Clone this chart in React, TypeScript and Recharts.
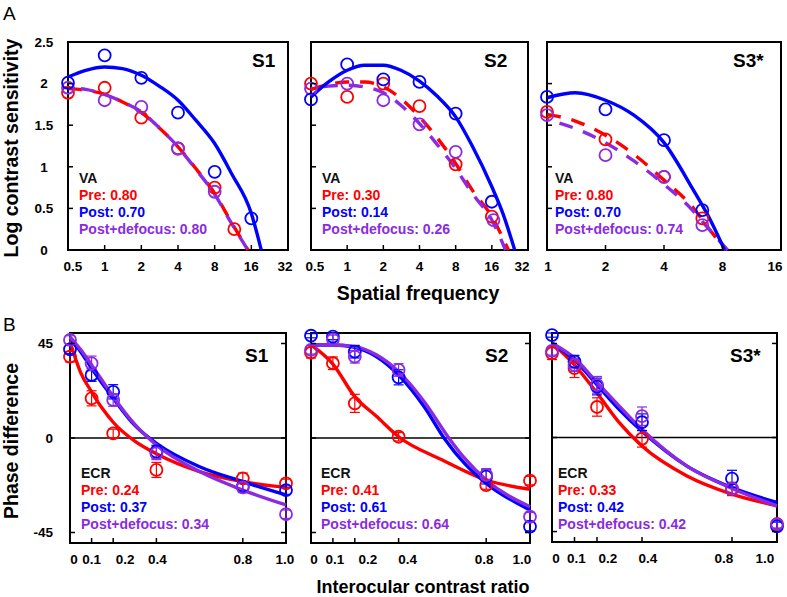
import React from "react";
import {
  ComposedChart,
  Line,
  Scatter,
  XAxis,
  YAxis,
  ReferenceArea,
  ReferenceLine,
  ErrorBar,
} from "recharts";

const RED = "#ff0000";
const BLUE = "#0000ff";
const PURPLE = "#8a2be2";
const FONT = "Arial, 'Liberation Sans', sans-serif";

type P = [number, number];
type E = [number, number, number];

// ---- A: contrast sensitivity vs spatial frequency ----
const sfTicks = [0.5, 1, 2, 4, 8, 16, 32];
const sfLabels = ["0.5", "1", "2", "4", "8", "16", "32"];
const sfTicksS3 = [1, 2, 4, 8, 16];
const sfLabelsS3 = ["1", "2", "4", "8", "16"];
const lcsTicks = [0, 0.5, 1, 1.5, 2, 2.5];
const lcsLabels = ["0", "0.5", "1", "1.5", "2", "2.5"];

const csfS1Pre: P[] = [[0.5, 1.89], [1, 1.95], [2, 1.59], [4, 1.22], [8, 0.75], [11.6, 0.25]];
const csfS1Post: P[] = [[0.5, 2.01], [1, 2.34], [2, 2.07], [4, 1.65], [8, 0.94], [16, 0.38]];
const csfS1Def: P[] = [[0.5, 1.95], [1, 1.8], [2, 1.72], [4, 1.22], [8, 0.7]];
const csfS1PreFit: P[] = [[0.5, 1.94], [0.7, 1.92], [1, 1.87], [1.4, 1.78], [2, 1.65], [2.8, 1.47], [4, 1.24], [5.6, 0.98], [8, 0.68], [11, 0.33], [15, 0]];
const csfS1PostFit: P[] = [[0.5, 2.08], [0.7, 2.16], [1, 2.2], [1.4, 2.18], [2, 2.1], [2.8, 1.97], [4, 1.8], [5.6, 1.56], [8, 1.28], [11, 0.92], [16, 0.44], [19.3, 0]];
const csfS1DefFit: P[] = [[0.5, 1.95], [0.7, 1.93], [1, 1.87], [1.4, 1.78], [2, 1.66], [2.8, 1.47], [4, 1.24], [5.6, 0.97], [8, 0.67], [11, 0.32], [15, 0]];

const csfS2Pre: P[] = [[0.5, 2.0], [1, 1.84], [2, 2.0], [4, 1.73], [8, 1.03], [16, 0.4]];
const csfS2Post: P[] = [[0.5, 1.81], [1, 2.23], [2, 2.05], [4, 2.02], [8, 1.64], [16, 0.58]];
const csfS2Def: P[] = [[0.5, 1.94], [1, 2.0], [2, 1.8], [4, 1.51], [8, 1.18], [16.5, 0.36]];
const csfS2PreFit: P[] = [[0.5, 1.93], [0.7, 1.99], [1, 2.02], [1.4, 2.02], [2, 1.96], [2.8, 1.82], [4, 1.6], [5.6, 1.35], [8, 1.04], [11, 0.72], [16, 0.4], [22, 0]];
const csfS2PostFit: P[] = [[0.5, 1.84], [0.7, 2.02], [1, 2.16], [1.4, 2.22], [2, 2.22], [2.8, 2.16], [4, 2.03], [5.6, 1.85], [8, 1.6], [11, 1.25], [16, 0.76], [20, 0.42], [24.8, 0]];
const csfS2DefFit: P[] = [[0.5, 1.94], [0.7, 1.97], [1, 1.98], [1.4, 1.96], [2, 1.89], [2.8, 1.74], [4, 1.52], [5.6, 1.27], [8, 0.98], [11, 0.68], [16, 0.36], [20.8, 0]];

const csfS3Pre: P[] = [[1, 1.66], [2, 1.33], [4, 0.88], [6.3, 0.38]];
const csfS3Post: P[] = [[1, 1.84], [2, 1.69], [4, 1.32], [6.3, 0.48]];
const csfS3Def: P[] = [[1, 1.62], [2, 1.14], [4, 0.88], [6.3, 0.3]];
const csfS3PreFit: P[] = [[1, 1.63], [1.4, 1.55], [2, 1.38], [2.8, 1.15], [4, 0.84], [5.6, 0.52], [7, 0.22], [8.3, 0]];
const csfS3PostFit: P[] = [[1, 1.83], [1.4, 1.89], [2, 1.8], [2.8, 1.62], [4, 1.29], [5.6, 0.74], [7, 0.34], [8.2, 0]];
const csfS3DefFit: P[] = [[1, 1.57], [1.4, 1.46], [2, 1.29], [2.8, 1.07], [4, 0.79], [5.6, 0.48], [7, 0.22], [8.5, 0]];

const vaS1 = ["0.80", "0.70", "0.80"];
const vaS2 = ["0.30", "0.14", "0.26"];
const vaS3 = ["0.80", "0.70", "0.74"];

// ---- B: phase difference vs interocular contrast ratio ----
const icrTicks = [0, 0.1, 0.2, 0.4, 0.8, 1.0];
const icrLabels = ["0", "0.1", "0.2", "0.4", "0.8", "1.0"];
const phaseTicks = [-45, 0, 45];
const phaseLabels = ["-45", "0", "45"];

const ecrS1Pre: E[] = [[0, 38.7, 2.5], [0.1, 18.9, 3.6], [0.2, 2.2, 2], [0.4, -15.2, 3.6], [0.8, -19.2, 2.5], [1, -21.6, 2]];
const ecrS1Post: E[] = [[0, 42.2, 2], [0.1, 30, 3], [0.2, 22, 3.4], [0.4, -6.5, 3], [0.8, -23.2, 2], [1, -24.8, 2]];
const ecrS1Def: E[] = [[0, 46.7, 2], [0.1, 35.5, 3.5], [0.2, 18.1, 3], [0.4, -7.3, 3], [0.8, -23.5, 2.5], [1, -36.3, 2]];
const ecrS1PreFit: P[] = [[0, 46], [0.025, 38], [0.05, 31], [0.1, 22], [0.15, 14], [0.2, 7.5], [0.3, -1.5], [0.4, -7.5], [0.6, -16], [0.8, -20.8], [1, -23.5]];
const ecrS1PostFit: P[] = [[0, 47.5], [0.05, 41], [0.1, 33.2], [0.2, 18.9], [0.3, 6], [0.4, -2.5], [0.6, -13.7], [0.8, -20.8], [1, -27.1]];
const ecrS1DefFit: P[] = [[0, 48.2], [0.05, 42], [0.1, 34.8], [0.2, 19.7], [0.3, 6.5], [0.4, -3.3], [0.6, -16], [0.8, -24.8], [1, -31.9]];

const ecrS2Pre: E[] = [[0, 40.6, 2.5], [0.1, 35.6, 3], [0.2, 16.5, 4.3], [0.4, 0.6, 2], [0.8, -22.4, 2], [1, -20.3, 2]];
const ecrS2Post: E[] = [[0, 48.7, 1], [0.1, 48.3, 1.5], [0.2, 41.1, 3], [0.4, 28.9, 3.6], [0.8, -18.4, 3.5], [1, -42.2, 2]];
const ecrS2Def: E[] = [[0, 42, 2], [0.1, 47, 2], [0.2, 38.7, 3], [0.4, 32.4, 3], [0.8, -17.6, 3], [1, -37.5, 2]];
const ecrS2PreFit: P[] = [[0, 44.3], [0.1, 35.2], [0.2, 19.7], [0.3, 10.2], [0.4, 0.6], [0.6, -10.5], [0.8, -20], [1, -24.4]];
const ecrS2PostFit: P[] = [[0, 44.3], [0.1, 44.3], [0.2, 43.2], [0.3, 38.7], [0.4, 30], [0.517, 14.9], [0.609, -0.2], [0.7, -12], [0.8, -21.6], [1, -34.3]];
const ecrS2DefFit: P[] = [[0, 44.3], [0.1, 44.3], [0.2, 43.5], [0.3, 39.5], [0.4, 31.6], [0.517, 17.3], [0.631, -0.2], [0.7, -9.5], [0.8, -20], [1, -32.7]];

const ecrS3Pre: E[] = [[0, 40.3, 3], [0.1, 33.2, 4.5], [0.2, 14.6, 4.4], [0.4, -0.6, 4], [0.8, -24.8, 3], [1, -41.4, 2]];
const ecrS3Post: E[] = [[0, 49, 1], [0.1, 36.3, 3], [0.2, 24.4, 4], [0.4, 7.3, 4], [0.8, -19.7, 4], [1, -42.5, 2]];
const ecrS3Def: E[] = [[0, 41.4, 2], [0.1, 34.6, 3], [0.2, 25.2, 4], [0.4, 10.2, 4.4], [0.8, -24.4, 3], [1, -41.4, 2]];
const ecrS3PreFit: P[] = [[0, 45.1], [0.1, 34.8], [0.2, 21.3], [0.3, 7], [0.4, -4.1], [0.6, -18.4], [0.8, -27.1], [1, -32.7]];
const ecrS3PostFit: P[] = [[0, 45.1], [0.1, 37.1], [0.2, 25.2], [0.3, 13.3], [0.4, 3], [0.6, -13.7], [0.8, -24], [1, -31.1]];
const ecrS3DefFit: P[] = [[0, 45.1], [0.1, 38], [0.2, 26.3], [0.3, 14.9], [0.4, 3.8], [0.6, -13.7], [0.8, -24.4], [1, -32.7]];

const ecrS1 = ["0.24", "0.37", "0.34"];
const ecrS2 = ["0.41", "0.61", "0.64"];
const ecrS3 = ["0.33", "0.42", "0.42"];

type Series = {
  pts: number[][];
  fit: P[];
  color: string;
  dash?: string;
  dashOffset?: number;
};

type Cfg = {
  left: number;
  top: number;
  w: number;
  h: number;
  log?: boolean;
  xDomain: [number, number];
  xTicks: number[];
  xLabels: string[];
  xShift: number[];
  yDomain: [number, number];
  yTicks: number[];
  yLabels: string[];
  showY: boolean;
  yAnchor: "middle" | "end";
  both?: boolean;
  zero?: boolean;
  err?: boolean;
  series: Series[];
};

const toRows = (arr: number[][]) => arr.map(([x, y, e]) => ({ x, y, e: e ?? 0 }));

const L = 60;
const T = 10;

function Panel({ c }: { c: Cfg }) {
  const xTick = (p: any) => {
    const i = c.xTicks.indexOf(p.payload.value);
    return (
      <g>
        <line x1={p.x} x2={p.x} y1={T + c.h} y2={T + c.h - 5} stroke="#000" strokeWidth={1.5} />
        <text
          x={p.x + (c.xShift[i] ?? 0)}
          y={T + c.h + 21}
          textAnchor="middle"
          fontFamily={FONT}
          fontWeight="bold"
          fontSize={13.5}
          fill="#000"
        >
          {c.xLabels[i]}
        </text>
      </g>
    );
  };
  const yTick = (p: any) => {
    const i = c.yTicks.indexOf(p.payload.value);
    return (
      <g>
        <line x1={L} x2={L + 5} y1={p.y} y2={p.y} stroke="#000" strokeWidth={1.5} />
        {c.both && <line x1={L + c.w} x2={L + c.w - 5} y1={p.y} y2={p.y} stroke="#000" strokeWidth={1.5} />}
        {c.showY && (
          <text
            x={c.yAnchor === "middle" ? L - 24 : L - 17}
            y={p.y}
            dy="0.36em"
            textAnchor={c.yAnchor}
            fontFamily={FONT}
            fontWeight="bold"
            fontSize={13.5}
            fill="#000"
          >
            {c.yLabels[i]}
          </text>
        )}
      </g>
    );
  };
  return (
    <div style={{ position: "absolute", left: c.left - L, top: c.top - T }}>
      <ComposedChart
        width={c.w + L + 10}
        height={c.h + T + 30}
        margin={{ top: T, right: 10, left: 0, bottom: 0 }}
      >
        <XAxis
          type="number"
          dataKey="x"
          scale={c.log ? "log" : "linear"}
          domain={c.xDomain}
          ticks={c.xTicks}
          interval={0}
          tick={xTick}
          tickLine={false}
          axisLine={false}
          height={30}
        />
        <YAxis
          type="number"
          dataKey="y"
          domain={c.yDomain}
          ticks={c.yTicks}
          interval={0}
          tick={yTick}
          tickLine={false}
          axisLine={false}
          width={L}
        />
        <ReferenceArea
          x1={c.xDomain[0]}
          x2={c.xDomain[1]}
          y1={c.yDomain[0]}
          y2={c.yDomain[1]}
          fill="none"
          fillOpacity={0}
          stroke="#000"
          strokeWidth={2}
          strokeOpacity={1}
        />
        {c.zero && <ReferenceLine y={0} stroke="#000" strokeWidth={1.5} />}
        {c.series.map((s, k) => (
          <Line
            key={"f" + k}
            data={toRows(s.fit)}
            dataKey="y"
            type="monotone"
            stroke={s.color}
            strokeWidth={3.4}
            strokeDasharray={s.dash}
            strokeDashoffset={s.dashOffset}
            dot={false}
            activeDot={false}
            isAnimationActive={false}
          />
        ))}
        {c.series.map((s, k) => (
          <Scatter
            key={"p" + k}
            data={toRows(s.pts)}
            dataKey="y"
            isAnimationActive={false}
            shape={(p: any) => (
              <circle cx={p.cx} cy={p.cy} r={6} fill="none" stroke={s.color} strokeWidth={1.8} />
            )}
          >
            {c.err && <ErrorBar dataKey="e" direction="y" width={5} stroke={s.color} strokeWidth={1.2} />}
          </Scatter>
        ))}
      </ComposedChart>
    </div>
  );
}

const DASH = "14 11";

const panelsA: Cfg[] = [
  {
    left: 68, top: 42, w: 220, h: 208, log: true,
    xDomain: [0.5, 32], xTicks: sfTicks, xLabels: sfLabels, xShift: [5, 0, 0, 0, 0, 0, -3],
    yDomain: [0, 2.5], yTicks: lcsTicks, yLabels: lcsLabels, showY: true, yAnchor: "middle",
    series: [
      { pts: csfS1Pre, fit: csfS1PreFit, color: RED, dash: DASH },
      { pts: csfS1Def, fit: csfS1DefFit, color: PURPLE, dash: DASH, dashOffset: 12 },
      { pts: csfS1Post, fit: csfS1PostFit, color: BLUE },
    ],
  },
  {
    left: 311, top: 42, w: 217, h: 208, log: true,
    xDomain: [0.5, 32], xTicks: sfTicks, xLabels: sfLabels, xShift: [4, 0, 0, 0, 0, 0, -6],
    yDomain: [0, 2.5], yTicks: lcsTicks, yLabels: lcsLabels, showY: false, yAnchor: "middle",
    series: [
      { pts: csfS2Pre, fit: csfS2PreFit, color: RED, dash: DASH },
      { pts: csfS2Def, fit: csfS2DefFit, color: PURPLE, dash: DASH, dashOffset: 12 },
      { pts: csfS2Post, fit: csfS2PostFit, color: BLUE },
    ],
  },
  {
    left: 547, top: 42, w: 234, h: 208, log: true,
    xDomain: [1, 16], xTicks: sfTicksS3, xLabels: sfLabelsS3, xShift: [1, 0, 0, 0, -6],
    yDomain: [0, 2.5], yTicks: lcsTicks, yLabels: lcsLabels, showY: false, yAnchor: "middle",
    series: [
      { pts: csfS3Pre, fit: csfS3PreFit, color: RED, dash: DASH },
      { pts: csfS3Def, fit: csfS3DefFit, color: PURPLE, dash: DASH, dashOffset: 12 },
      { pts: csfS3Post, fit: csfS3PostFit, color: BLUE },
    ],
  },
];

const panelsB: Cfg[] = [
  {
    left: 70, top: 333, w: 216, h: 210,
    xDomain: [0, 1], xTicks: icrTicks, xLabels: icrLabels, xShift: [4, 0, 12, 1, 0, -1],
    yDomain: [-50, 50], yTicks: phaseTicks, yLabels: phaseLabels, showY: true, yAnchor: "end",
    both: true, zero: true, err: true,
    series: [
      { pts: ecrS1Pre, fit: ecrS1PreFit, color: RED },
      { pts: ecrS1Post, fit: ecrS1PostFit, color: BLUE },
      { pts: ecrS1Def, fit: ecrS1DefFit, color: PURPLE },
    ],
  },
  {
    left: 311, top: 333, w: 219, h: 210,
    xDomain: [0, 1], xTicks: icrTicks, xLabels: icrLabels, xShift: [3, 2, 13, 9, -2, -8],
    yDomain: [-50, 50], yTicks: phaseTicks, yLabels: phaseLabels, showY: false, yAnchor: "end",
    both: true, zero: true, err: true,
    series: [
      { pts: ecrS2Pre, fit: ecrS2PreFit, color: RED },
      { pts: ecrS2Post, fit: ecrS2PostFit, color: BLUE },
      { pts: ecrS2Def, fit: ecrS2DefFit, color: PURPLE },
    ],
  },
  {
    left: 552, top: 333, w: 225, h: 209,
    xDomain: [0, 1], xTicks: icrTicks, xLabels: icrLabels, xShift: [4, 2, 11, 6, -8, -12],
    yDomain: [-50, 50], yTicks: phaseTicks, yLabels: phaseLabels, showY: false, yAnchor: "end",
    both: true, zero: true, err: true,
    series: [
      { pts: ecrS3Pre, fit: ecrS3PreFit, color: RED },
      { pts: ecrS3Post, fit: ecrS3PostFit, color: BLUE },
      { pts: ecrS3Def, fit: ecrS3DefFit, color: PURPLE },
    ],
  },
];

const Stats = ({ left, top, title, vals }: { left: number; top: number; title: string; vals: string[] }) => (
  <div style={{ position: "absolute", left, top, font: `bold 14px ${FONT}`, lineHeight: "17px", whiteSpace: "nowrap" }}>
    <div style={{ color: "#111" }}>{title}</div>
    <div style={{ color: RED }}>Pre: {vals[0]}</div>
    <div style={{ color: BLUE }}>Post: {vals[1]}</div>
    <div style={{ color: PURPLE }}>Post+defocus: {vals[2]}</div>
  </div>
);

const Tag = ({ left, top, text }: { left: number; top: number; text: string }) => (
  <div style={{ position: "absolute", left, top, font: `bold 19px ${FONT}`, lineHeight: "19px", color: "#000" }}>{text}</div>
);

const Title = ({ cx, cy, text, size, rotate }: { cx: number; cy: number; text: string; size: number; rotate?: boolean }) => (
  <div
    style={{
      position: "absolute",
      left: cx,
      top: cy,
      transform: `translate(-50%, -50%)${rotate ? " rotate(-90deg)" : ""}`,
      font: `bold ${size}px ${FONT}`,
      whiteSpace: "nowrap",
      color: "#000",
    }}
  >
    {text}
  </div>
);

export default function App() {
  return (
    <div style={{ position: "absolute", left: 0, top: 0, width: 787, height: 597, background: "#fff", overflow: "hidden" }}>
      {panelsA.map((c, i) => <Panel key={"a" + i} c={c} />)}
      {panelsB.map((c, i) => <Panel key={"b" + i} c={c} />)}

      <div style={{ position: "absolute", left: 3, top: 3, font: `19px ${FONT}`, color: "#000" }}>A</div>
      <div style={{ position: "absolute", left: 3, top: 314, font: `19px ${FONT}`, color: "#000" }}>B</div>

      <Tag left={252} top={51} text="S1" />
      <Tag left={484} top={51} text="S2" />
      <Tag left={733} top={51} text="S3*" />
      <Tag left={245} top={346} text="S1" />
      <Tag left={485} top={346} text="S2" />
      <Tag left={730} top={346} text="S3*" />

      <Stats left={79} top={170} title="VA" vals={vaS1} />
      <Stats left={322} top={170} title="VA" vals={vaS2} />
      <Stats left={555} top={170} title="VA" vals={vaS3} />
      <Stats left={81} top={465} title="ECR" vals={ecrS1} />
      <Stats left={321} top={465} title="ECR" vals={ecrS2} />
      <Stats left={558} top={465} title="ECR" vals={ecrS3} />

      <Title cx={11} cy={148} text="Log contrast sensitivity" size={19.5} rotate />
      <Title cx={418} cy={293} text="Spatial frequency" size={19.5} />
      <Title cx={11} cy={441} text="Phase difference" size={19.5} rotate />
      <Title cx={423} cy={587} text="Interocular contrast ratio" size={18} />
    </div>
  );
}
